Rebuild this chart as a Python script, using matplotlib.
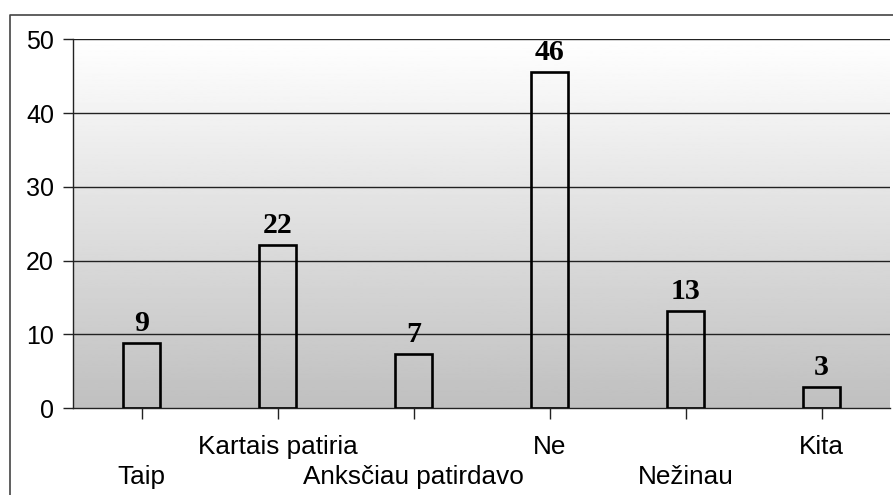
import numpy as np
import matplotlib.pyplot as plt
from matplotlib.lines import Line2D

categories = ['Taip', 'Kartais patiria', 'Anksčiau patirdavo', 'Ne', 'Nežinau', 'Kita']
values = [8.8, 22.1, 7.4, 45.6, 13.2, 2.9]
labels = ['9', '22', '7', '46', '13', '3']

plt.rcParams['font.family'] = ['Liberation Sans', 'DejaVu Sans']

fig = plt.figure(figsize=(8.93, 4.95), dpi=100)
ax = fig.add_axes([0.0823, 0.1752, 0.9963 - 0.0823, 0.9206 - 0.1752])

x = np.arange(len(categories))
ax.set_xlim(-0.5, len(categories) - 0.5)
ax.set_ylim(0, 50)

# gradient background (white top -> gray bottom)
grad = np.linspace(1.0, 0.75, 256).reshape(-1, 1)
ax.imshow(grad, extent=[-0.5, len(categories) - 0.5, 0, 50], aspect='auto',
          cmap='gray', vmin=0, vmax=1, zorder=0, origin='upper')

for yv in [10, 20, 30, 40, 50]:
    ax.axhline(yv, color='#222222', linewidth=1.0, zorder=1)

ax.bar(x, values, width=0.27, facecolor='none', edgecolor='black', linewidth=1.9, zorder=3)

for xi, v, lab in zip(x, values, labels):
    ax.annotate(lab, (xi, v), xytext=(0, 12), textcoords='offset pixels',
                ha='center', va='baseline', fontsize=21.5, fontweight='bold',
                family='Liberation Serif', zorder=4)

ax.set_yticks([0, 10, 20, 30, 40, 50])
ax.tick_params(axis='y', labelsize=18, length=7.5, width=1.0, pad=6.5, color='#222222')
ax.set_xticks(x)
ax.set_xticklabels([])
ax.tick_params(axis='x', length=8, width=1.0, color='#222222')

for i, cat in enumerate(categories):
    off = -76 if i % 2 == 0 else -46
    ax.annotate(cat, (i, 0), xycoords=ax.get_xaxis_transform(), xytext=(0, off),
                textcoords='offset pixels', ha='center', va='baseline', fontsize=18.8)

for s in ['top', 'right']:
    ax.spines[s].set_visible(False)
ax.spines['left'].set_color('#222222')
ax.spines['bottom'].set_color('#222222')
ax.spines['left'].set_linewidth(1.0)
ax.spines['bottom'].set_linewidth(1.0)

# outer border (chart frame, cut off at the right and bottom)
fx = 9.5 / 893
fy = 1 - 14.5 / 495
fig.add_artist(Line2D([fx, fx, 1.0], [0.0, fy, fy], transform=fig.transFigure,
                      color='#444444', linewidth=1.2))

fig.savefig('out.png', dpi=100)
